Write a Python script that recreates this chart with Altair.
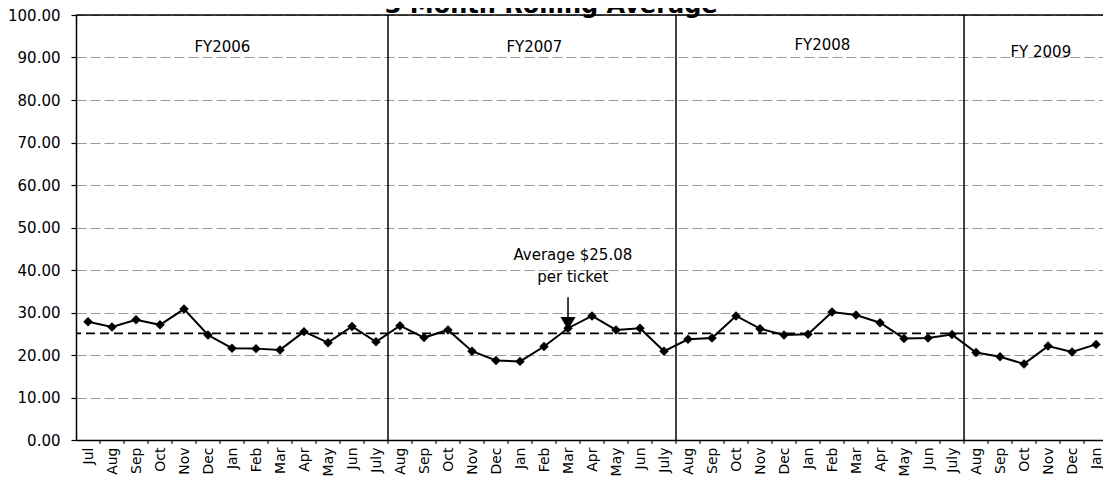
import altair as alt
import pandas as pd

# ---- data ----
months = ["Jul", "Aug", "Sep", "Oct", "Nov", "Dec", "Jan", "Feb", "Mar", "Apr", "May", "Jun",
          "July", "Aug", "Sep", "Oct", "Nov", "Dec", "Jan", "Feb", "Mar", "Apr", "May", "Jun",
          "July", "Aug", "Sep", "Oct", "Nov", "Dec", "Jan", "Feb", "Mar", "Apr", "May", "Jun",
          "July", "Aug", "Sep", "Oct", "Nov", "Dec", "Jan"]
fy2006 = [27.8, 26.6, 28.3, 27.1, 30.8, 24.7, 21.6, 21.5, 21.2, 25.5, 22.9, 26.7, 23.1]
fy2007 = [26.9, 24.1, 25.9, 20.9, 18.7, 18.5, 22.0, 26.3, 29.2, 25.9, 26.3, 20.9]
fy2008 = [23.7, 24.0, 29.2, 26.2, 24.7, 24.9, 30.1, 29.4, 27.6, 23.9, 24.0, 24.8]
fy2009 = [20.6, 19.6, 17.9, 22.1, 20.7, 22.5]
average = 25.08
title_text = "3 Month Rolling Average"
fy_labels = ["FY2006", "FY2007", "FY2008", "FY 2009"]
fy_label_x = [5.6, 18.6, 30.6, 39.7]
fy_label_y = [92.5, 92.5, 93.0, 91.3]
fy_boundaries = [12.5, 24.5, 36.5]
note_lines = ["Average $25.08", "per ticket"]
note_x = [20.2, 20.2]
note_y = [43.5, 38.4]
note_target = 20  # Mar FY2007

values = fy2006 + fy2007 + fy2008 + fy2009
idx = list(range(len(months)))
df = pd.DataFrame({"idx": idx, "month": months, "value": values})

FONT = "DejaVu Sans"
xs = alt.Scale(domain=[-0.5, 42.29], nice=False, zero=False)
ys = alt.Scale(domain=[0, 100], nice=False)

label_expr = "[" + ",".join("'" + m + "'" for m in months) + "][datum.value]"

x_axis = alt.Axis(values=idx, labelExpr=label_expr, labelAngle=270, labelFont=FONT,
                  labelFontSize=14, labelColor="black", ticks=False, grid=False,
                  domainColor="black", domainWidth=1.5, labelPadding=7, title=None,
                  labelOverlap=False, labelFlush=False, labelBound=False)
y_axis = alt.Axis(values=list(range(0, 101, 10)), format=".2f", labelFont=FONT,
                  labelFontSize=15, labelColor="black", tickSize=5, tickColor="black",
                  tickWidth=1.2, domainColor="black", domainWidth=1.5, grid=True,
                  gridColor="#9a9a9a", gridDash=[10, 4], gridWidth=1, title=None,
                  labelPadding=11)


def X(field):
    return alt.X(field, type="quantitative", scale=xs, axis=x_axis)


def Y(field):
    return alt.Y(field, type="quantitative", scale=ys, axis=y_axis)


line = alt.Chart(df).mark_line(color="black", strokeWidth=2).encode(
    x=X("idx"), y=Y("value"))
points = alt.Chart(df).mark_point(shape="diamond", filled=True, size=90, color="black",
                                  opacity=1).encode(x=X("idx"), y=Y("value"))

avg_df = pd.DataFrame({"v": [average]})
avg_rule = alt.Chart(avg_df).mark_rule(color="black", strokeWidth=1.8,
                                       strokeDash=[9, 5]).encode(y=Y("v"))

top_df = pd.DataFrame({"v": [100]})
top_rule = alt.Chart(top_df).mark_rule(color="black", strokeWidth=1.5).encode(y=Y("v"))

fy_df = pd.DataFrame({"b": fy_boundaries})
fy_rules = alt.Chart(fy_df).mark_rule(color="black", strokeWidth=1.5).encode(x=X("b"))

tick_df = pd.DataFrame({"t": [i + 0.5 for i in idx[:-1]]})
ticks = alt.Chart(tick_df).mark_rule(color="black", strokeWidth=1).encode(
    x=X("t"), y=alt.value(425), y2=alt.value(429))

fy_text_df = pd.DataFrame({"label": fy_labels, "x": fy_label_x, "y": fy_label_y})
fy_text = alt.Chart(fy_text_df).mark_text(font=FONT, fontSize=15, color="black",
                                          align="center", baseline="middle").encode(
    x=X("x"), y=Y("y"), text="label:N")

note_df = pd.DataFrame({"label": note_lines, "x": note_x, "y": note_y})
note_text = alt.Chart(note_df).mark_text(font=FONT, fontSize=15, color="black",
                                         align="center", baseline="middle").encode(
    x=X("x"), y=Y("y"), text="label:N")

arrow_df = pd.DataFrame({"x": [note_target], "y1": [33.6], "y2": [28.7], "yh": [27.4]})
arrow_line = alt.Chart(arrow_df).mark_rule(color="black", strokeWidth=1.5).encode(
    x=X("x"), y=Y("y1"), y2="y2:Q")
arrow_head = alt.Chart(arrow_df).mark_point(shape="triangle-down", filled=True, size=230,
                                            color="black", opacity=1).encode(
    x=X("x"), y=Y("yh"))

title_df = pd.DataFrame({"label": [title_text], "x": [19.3], "y": [100.5]})
title = alt.Chart(title_df).mark_text(font=FONT, fontSize=24, fontWeight="bold",
                                      color="black", align="center",
                                      baseline="alphabetic").encode(
    x=X("x"), y=Y("y"), text="label:N")

chart = alt.layer(
    line, avg_rule, top_rule, fy_rules, ticks, fy_text, note_text,
    arrow_line, arrow_head, points, title
).properties(
    width=1027, height=425,
    padding={"left": 68, "top": 7, "right": 0, "bottom": 38},
    autosize=alt.AutoSizeParams(type="none"),
    background="white",
).configure_view(strokeWidth=0)

chart.save("out.html", embed_options={"renderer": "svg", "actions": False})
